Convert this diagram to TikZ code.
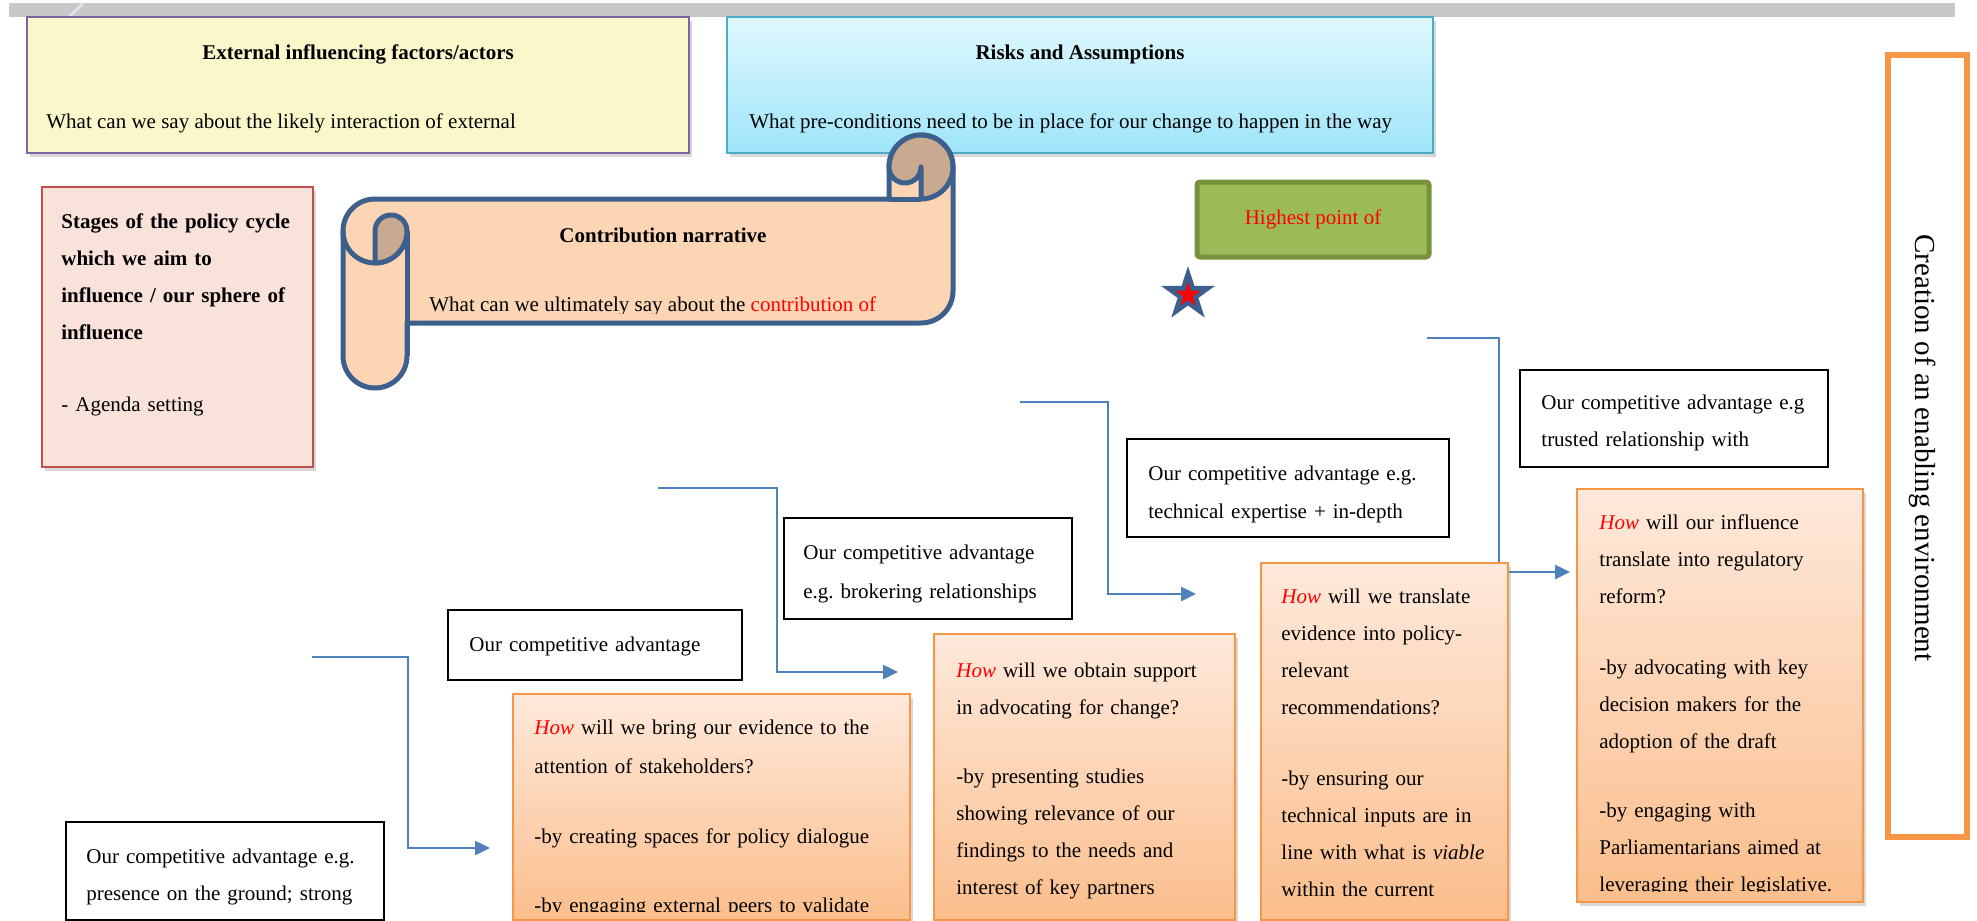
\documentclass[tikz,border=0pt]{standalone}
\usepackage{fontspec}
\setmainfont{Liberation Serif}
\usetikzlibrary{shapes.geometric,arrows.meta,shadows}
\frenchspacing

\definecolor{barGray}{HTML}{C8C8C8}
\definecolor{slashCol}{HTML}{DCE2EC}
\definecolor{yelFill}{HTML}{FAF7CB}
\definecolor{purp}{HTML}{8064A2}
\definecolor{cyTop}{HTML}{E0F8FE}
\definecolor{cyBot}{HTML}{9FE5FA}
\definecolor{cyBorder}{HTML}{4BACC6}
\definecolor{pinkFill}{HTML}{F9E2DA}
\definecolor{redBorder}{HTML}{C0504D}
\definecolor{scrollFill}{HTML}{FCD5B5}
\definecolor{scrollTan}{HTML}{C9A98F}
\definecolor{scrollLine}{HTML}{3C5F8C}
\definecolor{grFill}{HTML}{9BBB59}
\definecolor{grBorder}{HTML}{76923C}
\definecolor{orTop}{HTML}{FEE9DB}
\definecolor{orBot}{HTML}{FBBE8C}
\definecolor{orBorder}{HTML}{F79646}
\definecolor{arrowBlue}{HTML}{4F81BD}
\definecolor{starBlue}{HTML}{3C5F8F}

\newcommand{\HowR}{\textcolor{red}{\textit{How}}}

\begin{document}
\frenchspacing
\begin{tikzpicture}[x=0.5pt,y=-0.5pt,
  every node/.style={font=\fontsize{10.5pt}{18.5pt}\selectfont},
  sz/.style 2 args={minimum width={#1*0.5pt},minimum height={#2*0.5pt}},
  frame/.style={anchor=north west, inner sep=0pt, outer sep=0pt},
  shad/.style={drop shadow={shadow xshift=1.5pt,shadow yshift=-2pt,opacity=0.3}},
  txt/.style={anchor=north west, inner sep=0pt, align=left, text width=250pt},
  blackbox/.style={frame, draw=black, fill=white, line width=0.75pt},
  orbox/.style={frame, top color=orTop, bottom color=orBot, draw=orBorder, line width=1.25pt, shad},
  conn/.style={draw=arrowBlue, line width=1.25pt, -{Triangle[length=7.5pt,width=7pt]}}
]
\useasboundingbox (0,0) rectangle (1977,921);
\fill[white] (0,0) rectangle (1977,921);

% top bar
\fill[barGray] (9,3) rectangle (1955,17);
\draw[slashCol, line width=1.5pt] (83,3) -- (69,17);

% top boxes
\node[frame, sz={662}{136}, fill=yelFill, draw=purp, line width=1.25pt, shad] (ext) at (27,17) {};
\node[anchor=base, font=\fontsize{10.5pt}{12pt}\selectfont\bfseries] (extT) at (358,59) {External influencing factors/actors};
\node[anchor=base west, inner sep=0pt] (extB) at (46,128) {What can we say about the likely interaction of external};

\node[frame, sz={706}{136}, top color=cyTop, bottom color=cyBot, draw=cyBorder, line width=1.25pt, shad] (risk) at (727,17) {};
\node[anchor=base, font=\fontsize{10.5pt}{12pt}\selectfont\bfseries] (riskT) at (1080,59) {Risks and Assumptions};
\node[anchor=base west, inner sep=0pt] (riskB) at (749,128) {What pre-conditions need to be in place for our change to happen in the way};

% scroll
\begin{scope}[line width=2.5pt, draw=scrollLine, line join=round]
\filldraw[fill=scrollFill] (375,199) -- (889,199) -- (889,167)
  arc[start angle=180, end angle=360, radius=32] -- (953,291)
  arc[start angle=0, end angle=90, radius=32] -- (407,323) -- (407,356)
  arc[start angle=0, end angle=180, radius=32] -- (343,231)
  arc[start angle=180, end angle=270, radius=32] -- cycle;
\draw (343,231) arc[start angle=180, end angle=0, radius=32];
\draw (407,231) -- (407,356);
\filldraw[fill=scrollTan] (375,263) -- (375,231) arc[start angle=180, end angle=360, radius=16]
  arc[start angle=0, end angle=90, radius=32] -- cycle;
\filldraw[fill=scrollTan] (889,167) arc[start angle=180, end angle=0, radius=16] -- (921,199)
  arc[start angle=90, end angle=0, radius=32] arc[start angle=0, end angle=-180, radius=32] -- cycle;
\draw (889,199) -- (921,199);
\end{scope}
\node[anchor=base, font=\fontsize{10.5pt}{12pt}\selectfont\bfseries] (contT) at (663,242) {Contribution narrative};
\begin{scope}
\clip (410,200) rectangle (950,313.5);
\node[anchor=base west, inner sep=0pt] (contB) at (429,311) {What can we ultimately say about the \textcolor{red}{contribution of}};
\end{scope}

% stages box
\node[frame, sz={271}{280}, fill=pinkFill, draw=redBorder, line width=1pt, shad] (stages) at (42,187) {};
\node[txt] (stagesT) at (61,202) {\strut\textbf{Stages of the policy cycle}\\ \textbf{which we aim to}\\ \textbf{influence / our sphere of}\\ \textbf{influence}\\[17.5pt] - Agenda setting};

% connectors
\coordinate (a1s) at (312,657); \coordinate (a1e) at (490,848);
\coordinate (a2s) at (658,488); \coordinate (a2e) at (898,672);
\coordinate (a3s) at (1020,402); \coordinate (a3e) at (1196,594);
\coordinate (a4s) at (1427,338); \coordinate (a4e) at (1570,572);
\draw[conn] (a1s) -- ++(96,0) |- (a1e);
\draw[conn] (a2s) -- ++(119,0) |- (a2e);
\draw[conn] (a3s) -- ++(88,0) |- (a3e);
\draw[conn] (a4s) -- ++(72,0) |- (a4e);

% competitive advantage boxes
\node[blackbox, sz={318}{98}] (cA) at (66,822) {};
\node[txt] (cAt) at (86,837) {\strut Our competitive advantage e.g.\\ presence on the ground; strong};
\node[blackbox, sz={294}{70}] (cB) at (448,610) {};
\node[txt] (cBt) at (469,625) {\strut Our competitive advantage};
\node[blackbox, sz={288}{101}] (cC) at (784,518) {};
\node[txt, font=\fontsize{10.5pt}{19.5pt}\selectfont] (cCt) at (803,532) {\strut Our competitive advantage\\ e.g. brokering relationships};
\node[blackbox, sz={322}{98}] (cD) at (1127,439) {};
\node[txt, font=\fontsize{10.5pt}{19pt}\selectfont] (cDt) at (1148,453) {\strut Our competitive advantage e.g.\\ technical expertise + in-depth};
\node[blackbox, sz={308}{97}] (cE) at (1520,370) {};
\node[txt] (cEt) at (1541,383) {\strut Our competitive advantage e.g\\ trusted relationship with};

% orange boxes
\node[orbox, sz={397}{226}] (o1) at (513,694) {};
\begin{scope}
\clip (513,694) rectangle (910,911);
\node[txt, font=\fontsize{10.5pt}{19.5pt}\selectfont] (o1t) at (534,707) {\strut\HowR{} will we bring our evidence to the\\ attention of stakeholders?\\[15.5pt] -by creating spaces for policy dialogue\\[15pt] -by engaging external peers to validate};
\end{scope}
\node[orbox, sz={301}{286}] (o2) at (934,634) {};
\node[txt] (o2t) at (956,651) {\strut\HowR{} will we obtain support\\ in advocating for change?\\[16pt] -by presenting studies\\ showing relevance of our\\ findings to the needs and\\ interest of key partners};
\node[orbox, sz={247}{357}] (o3) at (1261,563) {};
\node[txt] (o3t) at (1281,577) {\strut\HowR{} will we translate\\ evidence into policy-\\ relevant\\ recommendations?\\[17pt] -by ensuring our\\ technical inputs are in\\ line with what is \textit{viable}\\ within the current};
\node[orbox, sz={286}{413}] (o4) at (1577,489) {};
\begin{scope}
\clip (1577,489) rectangle (1863,891.5);
\node[txt] (o4t) at (1599,503) {\strut\HowR{} will our influence\\ translate into regulatory\\ reform?\\[17pt] -by advocating with key\\ decision makers for the\\ adoption of the draft\\[16pt] -by engaging with\\ Parliamentarians aimed at\\ leveraging their legislative.};
\end{scope}

% star and green box
\node[star, star points=5, star point ratio=2.618, minimum size=28.5pt, inner sep=0pt, fill=starBlue] (starO) at (1188,294.6) {};
\node[star, star points=5, star point ratio=2.618, minimum size=13pt, inner sep=0pt, fill=red] (starI) at (1188,295) {};
\node[frame, sz={232}{75}, fill=grFill, draw=grBorder, line width=2.5pt, rounded corners=1.5pt, text=red] (high) at (1197,182) {Highest point of};

% right box
\node[frame, sz={79}{782}, fill=white, draw=orBorder, line width=3pt] (env) at (1888,55) {};
\node[rotate=-90, font=\fontsize{14.5pt}{17pt}\selectfont] (envT) at (1923,448) {Creation of an enabling environment};
\end{tikzpicture}
\end{document}
